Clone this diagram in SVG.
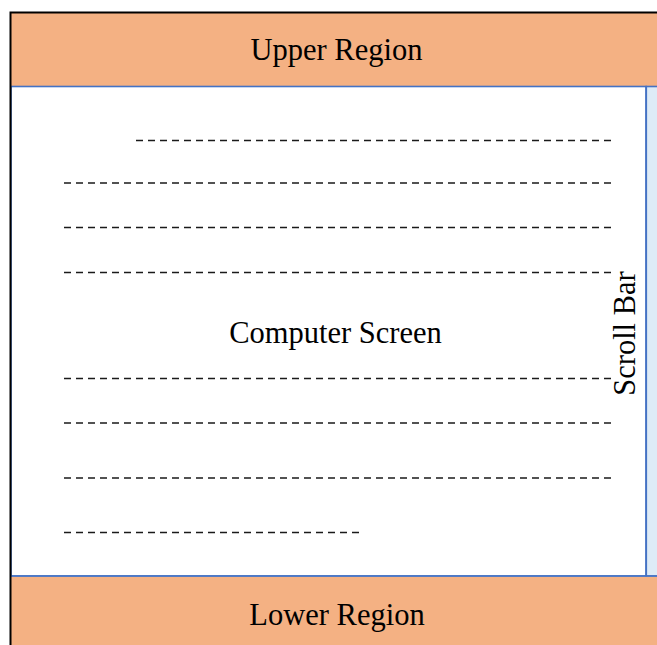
<svg xmlns="http://www.w3.org/2000/svg" width="657" height="645" viewBox="0 0 657 645">
  <style>
    .region { fill: #F4B183; }
    .panel { stroke: #4472C4; stroke-width: 1.6; }
    .label { font-family: "Liberation Serif", "Times New Roman", serif; font-size: 30.5px; fill: #000; }
    .textline { stroke: #1a1a1a; stroke-width: 1.6; stroke-dasharray: 7 5; fill: none; }
  </style>
  <rect x="0" y="0" width="657" height="645" fill="#fff"/>

  <g id="upper-region">
    <rect class="region" x="11" y="12.5" width="646" height="74"/>
    <text class="label" x="336.5" y="60" text-anchor="middle">Upper Region</text>
  </g>

  <g id="computer-screen">
    <rect class="panel" x="11" y="86.5" width="635" height="489.5" fill="#fff"/>
    <text class="label" x="335.5" y="343" text-anchor="middle">Computer Screen</text>
  </g>

  <g id="scroll-bar">
    <rect class="panel" x="646.3" y="86.5" width="20" height="489.5" fill="#DEEBF7"/>
    <text class="label" transform="translate(634.5,333.5) rotate(-90)" text-anchor="middle">Scroll Bar</text>
  </g>

  <g id="lower-region">
    <rect class="region" x="11" y="576.8" width="646" height="70"/>
    <line class="panel" x1="11" y1="576" x2="657" y2="576"/>
    <text class="label" x="337" y="625" text-anchor="middle">Lower Region</text>
  </g>

  <!-- outer frame of the display -->
  <g id="frame" fill="none" stroke="#000" stroke-width="2">
    <polyline points="10.5,645 10.5,12.5 657,12.5"/>
  </g>

  <!-- placeholder lines of text on the screen -->
  <g id="text-lines">
    <line class="textline" x1="136" y1="140.5" x2="612" y2="140.5"/>
    <line class="textline" x1="64" y1="183" x2="612" y2="183"/>
    <line class="textline" x1="64" y1="227.5" x2="612" y2="227.5"/>
    <line class="textline" x1="64" y1="272.5" x2="612" y2="272.5"/>
    <line class="textline" x1="64" y1="378.5" x2="612" y2="378.5"/>
    <line class="textline" x1="64" y1="423" x2="612" y2="423"/>
    <line class="textline" x1="64" y1="478" x2="612" y2="478"/>
    <line class="textline" x1="64" y1="532.5" x2="362" y2="532.5"/>
  </g>
</svg>
